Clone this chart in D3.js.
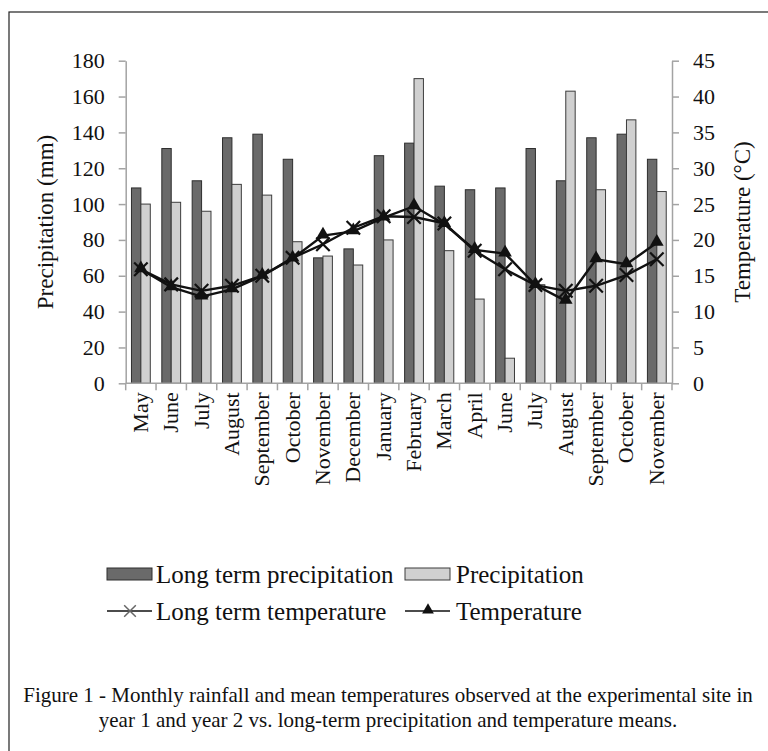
<!DOCTYPE html>
<html>
<head>
<meta charset="utf-8">
<script src="https://cdnjs.cloudflare.com/ajax/libs/d3/7.8.5/d3.min.js"></script>
<style>
    body { margin: 0; background: #fff; }
    svg text { font-family: "Liberation Serif", "Times New Roman", "DejaVu Serif", serif; fill: #111; }
</style>
</head>
<body>
<svg id="chart" width="768" height="751"></svg>
<script>
// 月份（两年连续）
const months = ['May', 'June', 'July', 'August', 'September', 'October', 'November', 'December',
    'January', 'February', 'March', 'April', 'June', 'July', 'August', 'September', 'October', 'November'];
// 长期降水 (mm)
const longTermPrecip = [109, 131, 113, 137, 139, 125, 70, 75, 127, 134, 110, 108, 109, 131, 113, 137, 139, 125];
// 实测降水 (mm)
const precip = [100, 101, 96, 111, 105, 79, 71, 66, 80, 170, 74, 47, 14, 55, 163, 108, 147, 107];
// 长期温度 (°C)
const longTermTemp = [15.9, 13.8, 12.9, 13.6, 15.0, 17.5, 19.4, 21.7, 23.3, 23.2, 22.3, 18.5, 15.9, 13.7, 12.9, 13.6, 15.1, 17.3];
// 实测温度 (°C)
const temp = [15.9, 13.4, 12.1, 13.1, 15.0, 17.4, 20.6, 21.2, 23.1, 24.7, 22.2, 18.6, 18.1, 13.7, 11.5, 17.3, 16.6, 19.6];
// 坐标刻度
const precipTicks = d3.range(0, 181, 20);
const tempTicks = d3.range(0, 46, 5);

const svg = d3.select('#chart');
const axisColor = '#a3a3a3';
const serif = '"Liberation Serif", "Times New Roman", serif';

// 外框（只露出左边和上边）
svg.append('rect')
    .attr('x', 9).attr('y', 12)
    .attr('width', 900).attr('height', 900)
    .attr('fill', 'none').attr('stroke', '#222').attr('stroke-width', 1.2);

// 比例尺
const x = d3.scaleBand().domain(d3.range(months.length)).range([125.7, 672]);
const yP = d3.scaleLinear().domain([0, 180]).range([383.3, 60.7]);
const yT = d3.scaleLinear().domain([0, 45]).range([383.3, 60.7]);
const bw = x.bandwidth() * 0.31;

// 柱子
const bars = svg.append('g');
bars.selectAll('.lt').data(longTermPrecip).join('rect')
    .attr('x', (d, i) => x(i) + x.bandwidth() / 2 - bw)
    .attr('y', d => yP(d))
    .attr('width', bw)
    .attr('height', d => yP(0) - yP(d))
    .attr('fill', '#6a6a6a').attr('stroke', '#2e2e2e').attr('stroke-width', 1);
bars.selectAll('.pr').data(precip).join('rect')
    .attr('x', (d, i) => x(i) + x.bandwidth() / 2)
    .attr('y', d => yP(d))
    .attr('width', bw)
    .attr('height', d => yP(0) - yP(d))
    .attr('fill', '#d0d0d0').attr('stroke', '#3c3c3c').attr('stroke-width', 1);

// 左轴
const gL = svg.append('g').attr('transform', `translate(${x.range()[0]},0)`)
    .call(d3.axisLeft(yP).tickValues(precipTicks).tickSize(7).tickSizeOuter(0).tickPadding(14));
// 右轴
const gR = svg.append('g').attr('transform', `translate(${x.range()[1]},0)`)
    .call(d3.axisRight(yT).tickValues(tempTicks).tickSize(7).tickSizeOuter(0).tickPadding(14));
[gL, gR].forEach(g => {
    g.attr('font-family', serif);
    g.selectAll('path, line').attr('stroke', axisColor).attr('stroke-width', 1.5);
    g.selectAll('text').attr('font-size', 22).attr('fill', '#111').style('font-family', serif);
});

// 底轴：刻度在每个月的边界
const gB = svg.append('g');
gB.append('line')
    .attr('x1', x.range()[0]).attr('x2', x.range()[1])
    .attr('y1', yP(0)).attr('y2', yP(0))
    .attr('stroke', axisColor).attr('stroke-width', 1.5);
gB.selectAll('.tk').data(d3.range(months.length + 1)).join('line')
    .attr('x1', i => x.range()[0] + i * x.step()).attr('x2', i => x.range()[0] + i * x.step())
    .attr('y1', yP(0)).attr('y2', yP(0) + 7)
    .attr('stroke', axisColor).attr('stroke-width', 1.5);
gB.selectAll('text').data(months).join('text')
    .attr('transform', (d, i) => `translate(${x(i) + x.bandwidth() / 2 + 7},${yP(0) + 9}) rotate(-90)`)
    .attr('text-anchor', 'end')
    .attr('font-size', 22)
    .text(d => d);

// 轴标题
svg.append('text')
    .attr('transform', `translate(53,${yP(90)}) rotate(-90)`)
    .attr('text-anchor', 'middle').attr('font-size', 23)
    .text('Precipitation (mm)');
svg.append('text')
    .attr('transform', `translate(750,${yP(90)}) rotate(-90)`)
    .attr('text-anchor', 'middle').attr('font-size', 23)
    .text('Temperature (°C)');

// 折线
const cx = i => x(i) + x.bandwidth() / 2;
const lineT = d3.line().x((d, i) => cx(i)).y(d => yT(d));
svg.append('path').attr('d', lineT(longTermTemp))
    .attr('fill', 'none').attr('stroke', '#111').attr('stroke-width', 2.4);
svg.append('path').attr('d', lineT(temp))
    .attr('fill', 'none').attr('stroke', '#111').attr('stroke-width', 2.4);

// 标记
const crossPath = d3.symbol().type(d3.symbolX).size(120);
const triPath = d3.symbol().type(d3.symbolTriangle).size(80);
svg.append('g').selectAll('path').data(longTermTemp).join('path')
    .attr('transform', (d, i) => `translate(${cx(i)},${yT(d)})`)
    .attr('d', crossPath()).attr('fill', 'none').attr('stroke', '#111').attr('stroke-width', 2.2);
svg.append('g').selectAll('path').data(temp).join('path')
    .attr('transform', (d, i) => `translate(${cx(i)},${yT(d) - 1})`)
    .attr('d', triPath()).attr('fill', '#111');

// 图例
const legendCross = d3.symbol().type(d3.symbolX).size(90);
const legendTri = d3.symbol().type(d3.symbolTriangle).size(60);
const lg = svg.append('g').attr('font-size', 25);
lg.append('rect').attr('x', 107).attr('y', 568).attr('width', 45).attr('height', 12)
    .attr('fill', '#6a6a6a').attr('stroke', '#2e2e2e');
lg.append('text').attr('x', 156).attr('y', 583).text('Long term precipitation');
lg.append('rect').attr('x', 405).attr('y', 568).attr('width', 45).attr('height', 12)
    .attr('fill', '#d0d0d0').attr('stroke', '#3c3c3c');
lg.append('text').attr('x', 456).attr('y', 583).text('Precipitation');

lg.append('line').attr('x1', 107).attr('x2', 152).attr('y1', 611).attr('y2', 611)
    .attr('stroke', '#111').attr('stroke-width', 1.5);
lg.append('path').attr('transform', 'translate(130,611)').attr('d', legendCross())
    .attr('fill', 'none').attr('stroke', '#666').attr('stroke-width', 1.5);
lg.append('text').attr('x', 156).attr('y', 620).text('Long term temperature');
lg.append('line').attr('x1', 405).attr('x2', 450).attr('y1', 611).attr('y2', 611)
    .attr('stroke', '#111').attr('stroke-width', 1.5);
lg.append('path').attr('transform', 'translate(428,610)').attr('d', legendTri()).attr('fill', '#111');
lg.append('text').attr('x', 456).attr('y', 620).text('Temperature');

// 图注
const cap = svg.append('g').attr('font-size', 21);
cap.append('text').attr('x', 388).attr('y', 702).attr('text-anchor', 'middle')
    .text('Figure 1 - Monthly rainfall and mean temperatures observed at the experimental site in');
cap.append('text').attr('x', 388).attr('y', 727).attr('text-anchor', 'middle')
    .text('year 1 and year 2 vs. long-term precipitation and temperature means.');
</script>
</body>
</html>
